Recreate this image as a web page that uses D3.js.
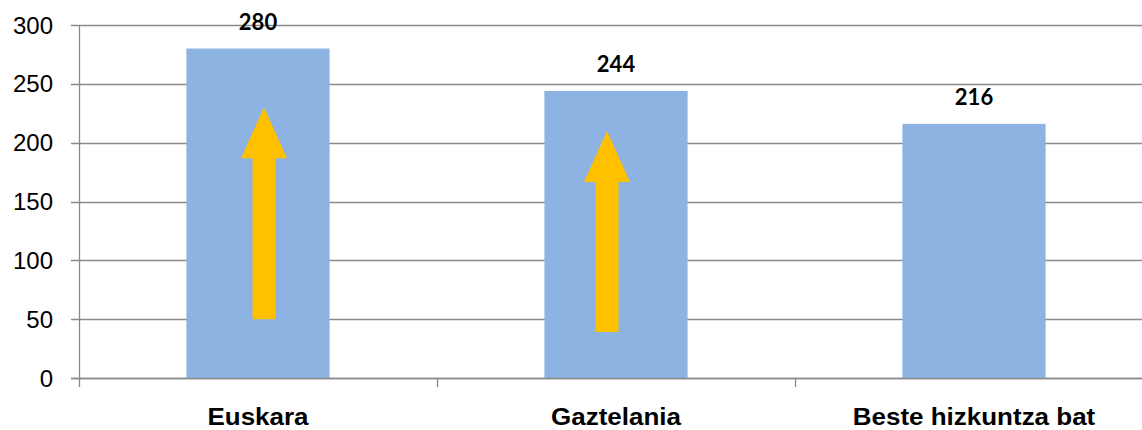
<!DOCTYPE html>
<html>
<head>
<meta charset="utf-8">
<script src="https://cdn.jsdelivr.net/npm/d3@7"></script>
<style>
  html, body { margin: 0; padding: 0; background: #ffffff; }
  svg { display: block; }
</style>
</head>
<body>
<svg id="chart" width="1142" height="430"></svg>
<script>
// ---- data ----
const categories = ["Euskara", "Gaztelania", "Beste hizkuntza bat"];
const values = [280, 244, 216];
const yTicks = [0, 50, 100, 150, 200, 250, 300];
const arrowCategories = ["Euskara", "Gaztelania"];
const arrowFrom = [50, 39];
const arrowTo = [230, 210];

// ---- layout ----
const W = 1142, H = 430;
const plotLeft = 79, plotRight = 1153, plotTop = 25, plotBottom = 378;
const gridColor = "#8a8a8a";
const barColor = "#8db3e2";
const arrowColor = "#ffc000";
const arrowXOffset = [6, -9];   // px offset of arrow from band centre
const arrowShaft = 23, arrowHeadW = 46, arrowHeadLen = 51;

const svg = d3.select("#chart");

const x = d3.scaleBand().domain(categories).range([plotLeft, plotRight]).paddingInner(0.6).paddingOuter(0.3);
const xb = d3.scaleBand().domain(categories).range([plotLeft, plotRight]);
const y = d3.scaleLinear().domain([0, 300]).range([plotBottom, plotTop]);

// gridlines
svg.append("g").selectAll("line").data(yTicks).join("line")
  .attr("x1", plotLeft - 8).attr("x2", plotRight)
  .attr("y1", d => Math.round(y(d)) + 0.5).attr("y2", d => Math.round(y(d)) + 0.5)
  .attr("stroke", gridColor).attr("stroke-width", 1.3);

// y axis line
svg.append("line")
  .attr("x1", plotLeft + 0.5).attr("x2", plotLeft + 0.5)
  .attr("y1", plotTop).attr("y2", plotBottom + 9)
  .attr("stroke", gridColor).attr("stroke-width", 1.3);

// category tick marks (band boundaries)
svg.append("g").selectAll("line").data(categories.slice(1)).join("line")
  .attr("x1", d => Math.round(xb(d)) + 0.5).attr("x2", d => Math.round(xb(d)) + 0.5)
  .attr("y1", plotBottom).attr("y2", plotBottom + 9)
  .attr("stroke", gridColor).attr("stroke-width", 1.3);

// y tick labels
svg.append("g").selectAll("text").data(yTicks).join("text")
  .attr("x", 53).attr("y", d => y(d)).attr("dy", "0.36em")
  .attr("text-anchor", "end")
  .attr("font-family", "Liberation Sans, Arial, sans-serif")
  .attr("font-size", 24).attr("fill", "#000")
  .text(d => d);

// bars
svg.append("g").selectAll("rect").data(values).join("rect")
  .attr("x", (d, i) => x(categories[i]))
  .attr("width", x.bandwidth())
  .attr("y", d => y(d))
  .attr("height", d => plotBottom - y(d))
  .attr("fill", barColor);

// redraw bottom axis line over bars
svg.append("line")
  .attr("x1", plotLeft - 8).attr("x2", plotRight)
  .attr("y1", Math.round(y(0)) + 0.5).attr("y2", Math.round(y(0)) + 0.5)
  .attr("stroke", gridColor).attr("stroke-width", 1.3);

// value labels
svg.append("g").selectAll("text").data(values).join("text")
  .attr("x", (d, i) => x(categories[i]) + x.bandwidth() / 2)
  .attr("y", d => y(d) - 19)
  .attr("text-anchor", "middle")
  .attr("font-family", "Lato, 'Open Sans', sans-serif")
  .attr("font-weight", "bold")
  .attr("font-size", 22).attr("fill", "#000")
  .text(d => d);

// arrows
arrowCategories.forEach((c, i) => {
  const cx = x(c) + x.bandwidth() / 2 + arrowXOffset[i];
  const yb = y(arrowFrom[i]);
  const yt = y(arrowTo[i]);
  const yh = yt + arrowHeadLen;
  const s = arrowShaft / 2, h = arrowHeadW / 2;
  const pts = [
    [cx - s, yb], [cx - s, yh], [cx - h, yh], [cx, yt],
    [cx + h, yh], [cx + s, yh], [cx + s, yb]
  ];
  svg.append("path")
    .attr("d", d3.line()(pts) + "Z")
    .attr("fill", arrowColor);
});

// category labels (slightly stretched horizontally like the source)
const catG = svg.append("g");
categories.forEach((c) => {
  const cx = xb(c) + xb.bandwidth() / 2;
  catG.append("text")
    .attr("transform", `translate(${cx},425) scale(1.13,1)`)
    .attr("text-anchor", "middle")
    .attr("font-family", "Liberation Sans, Arial, sans-serif")
    .attr("font-weight", "bold")
    .attr("font-size", 23).attr("fill", "#000")
    .text(c);
});
</script>
</body>
</html>
